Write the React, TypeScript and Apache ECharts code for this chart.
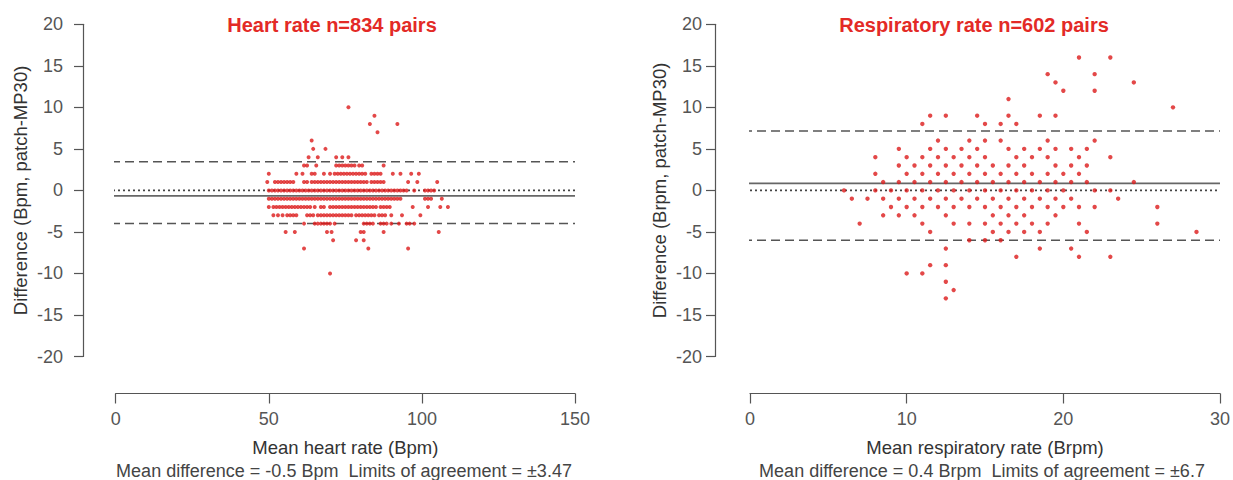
import React, { useEffect, useRef } from "react";
import * as echarts from "echarts";

// ---------- Heart rate panel data (difference row -> mean heart rate values) ----------
const HR_TITLE = "Heart rate n=834 pairs";
const HR_X_NAME = "Mean heart rate (Bpm)";
const HR_Y_NAME = "Difference (Bpm, patch-MP30)";
const HR_NOTE = "Mean difference = -0.5 Bpm  Limits of agreement = \u00b13.47";
const HR_X_RANGE = [0, 150];
const HR_X_STEP = 50;
const HR_LINES = { upper: 3.45, mean: -0.65, zero: 0, lower: -4.0 };
const HR_ROWS: { d: number; m: number[] }[] = [
  { d: 10, m: [76] },
  { d: 9, m: [84.5] },
  { d: 8, m: [83, 92] },
  { d: 7, m: [85.5] },
  { d: 6, m: [64] },
  { d: 5, m: [64.5, 68.5] },
  { d: 4, m: [63, 66, 72, 74, 76] },
  { d: 3, m: [61.5, 62.5, 65.5, 72, 73, 74, 75, 76, 77, 78, 79.5, 80.5, 87.5] },
  { d: 2, m: [50, 59, 61, 64, 65, 68, 70, 71.5, 72.5, 73.5, 74.5, 75.5, 76.5, 77.5, 78.5, 79.5, 80.5, 81.5, 83.5, 84.5, 85.5, 86.5, 90.5, 93, 96.5, 99] },
  { d: 1, m: [49.5, 52, 53, 54, 55, 56, 57, 58, 61.5, 62.5, 64, 65, 66, 67, 68, 69, 70, 71, 72, 73, 74, 75, 76, 77, 78, 79, 80, 81, 82, 83.5, 84.5, 85.5, 86.5, 87.5, 95.5, 98.5, 105] },
  { d: 0, m: [50, 51, 52, 53, 54, 55, 56, 57, 58, 59, 60, 61, 62, 63, 64, 65, 66, 67, 68, 69, 70, 71, 72, 73, 74, 75, 76, 77, 78, 79, 80, 81, 82, 83, 84, 85, 86, 87, 88, 89, 90, 91, 92, 93, 94, 95, 97.5, 101, 102, 103, 104] },
  { d: -1, m: [50, 51, 52, 53, 54, 55, 56, 57, 58, 59, 60, 61, 62, 63, 64, 65, 66, 67, 68, 69, 70, 71, 72, 73, 74, 75, 76, 77, 78, 79, 80, 81, 82, 83, 84, 85, 86, 87, 88, 89, 90, 91, 92, 93, 101, 102, 103, 106.5] },
  { d: -2, m: [50, 51.5, 52.5, 53.5, 54.5, 55.5, 56.5, 57.5, 58.5, 59.5, 60.5, 61.5, 62.5, 63.5, 65, 67, 68, 70, 71, 72, 73, 74, 75, 76, 77, 78, 79, 80, 81, 82, 83, 84, 85, 86.5, 87.5, 88.5, 89.5, 97, 102, 106, 108.5] },
  { d: -3, m: [51.5, 53, 54.5, 56, 57, 58, 59, 62.5, 63.5, 64.5, 66, 67, 68, 69, 70, 71, 72, 73, 74, 75, 76, 77, 78.5, 79.5, 80.5, 81.5, 82.5, 83.5, 84.5, 86, 87, 88, 90, 93.5, 99.5] },
  { d: -4, m: [61.5, 65, 66, 67, 68, 69, 70, 71.5, 81, 82, 83, 84, 86.5, 87.5, 88.5, 90, 92.5, 95, 96, 97.5] },
  { d: -5, m: [55.5, 58.5, 69, 70.5, 80, 81, 87.5, 105.5] },
  { d: -6, m: [71, 78.5, 81] },
  { d: -7, m: [61.5, 82.5, 95.5] },
  { d: -10, m: [70] },
];

// ---------- Respiratory rate panel data ----------
const RR_TITLE = "Respiratory rate n=602 pairs";
const RR_X_NAME = "Mean respiratory rate (Brpm)";
const RR_Y_NAME = "Difference (Brpm, patch-MP30)";
const RR_NOTE = "Mean difference = 0.4 Brpm  Limits of agreement = \u00b16.7";
const RR_X_RANGE = [0, 30];
const RR_X_STEP = 10;
const RR_LINES = { upper: 7.15, mean: 0.85, zero: 0, lower: -6.0 };
const RR_ROWS: { d: number; m: number[] }[] = [
  { d: 16, m: [21, 23] },
  { d: 14, m: [19, 22] },
  { d: 13, m: [19.5, 24.5] },
  { d: 12, m: [20, 22] },
  { d: 11, m: [16.5] },
  { d: 10, m: [27] },
  { d: 9, m: [11.5, 12.5, 14.5, 16.5, 18.5, 19.5] },
  { d: 8, m: [11, 15, 16, 17] },
  { d: 6, m: [12, 14, 15, 16, 19, 22] },
  { d: 5, m: [9.5, 11.5, 12.5, 13.5, 14.5, 16.5, 17.5, 18.5, 19.5, 20.5, 21.5] },
  { d: 4, m: [8, 10, 11, 12, 13, 14, 15, 17, 18, 19, 21, 23] },
  { d: 3, m: [9.5, 10.5, 11.5, 12.5, 13.5, 14.5, 15.5, 16.5, 17.5, 19.5, 20.5, 21.5] },
  { d: 2, m: [8, 10, 11, 12, 13, 14, 15, 16, 17, 18, 19, 20, 21] },
  { d: 1, m: [8.5, 9.5, 10.5, 11.5, 12.5, 13.5, 14.5, 15.5, 16.5, 17.5, 18.5, 19.5, 20.5, 21.5, 24.5] },
  { d: 0, m: [6, 8, 9, 10, 11, 12, 13, 14, 15, 16, 17, 18, 19, 20, 22, 23] },
  { d: -1, m: [6.5, 7.5, 8.5, 9.5, 10.5, 11.5, 12.5, 13.5, 14.5, 15.5, 16.5, 17.5, 18.5, 19.5, 20.5, 23.5] },
  { d: -2, m: [9, 10, 11, 12, 13, 14, 15, 16, 17, 18, 19, 20, 21, 22, 26] },
  { d: -3, m: [8.5, 9.5, 10.5, 12.5, 15.5, 16.5, 17.5, 19.5] },
  { d: -4, m: [7, 11, 13, 14, 15, 16, 17, 18, 19, 21, 26] },
  { d: -5, m: [11.5, 15.5, 16.5, 17.5, 18.5, 21.5, 28.5] },
  { d: -6, m: [14, 15, 16] },
  { d: -7, m: [12.5, 18.5, 20.5] },
  { d: -8, m: [17, 21, 23] },
  { d: -9, m: [11.5, 12.5] },
  { d: -10, m: [10, 11] },
  { d: -11, m: [12.5] },
  { d: -12, m: [13] },
  { d: -13, m: [12.5] },
];

const Y_RANGE = [-20, 20];
const Y_STEP = 5;

// ---------- styling / layout ----------
const FONT = "'Liberation Sans', Arial, Helvetica, sans-serif";
const RED = "#e32a26";
const DOT = "#dc1a1a";
const AXIS = "#555";
const GRID_TOP = 24.3;
const GRID_H = 332.2;
const X_OFFSET = 37;

const PANELS = [
  {
    title: HR_TITLE, xName: HR_X_NAME, yName: HR_Y_NAME, note: HR_NOTE,
    xRange: HR_X_RANGE, xStep: HR_X_STEP, lines: HR_LINES, rows: HR_ROWS,
    left: 115.7, width: 459.3, yOffset: 32.7, labelMargin: 20, yNameGap: 53,
    titleX: 332, noteX: 344, dot: 4,
  },
  {
    title: RR_TITLE, xName: RR_X_NAME, yName: RR_Y_NAME, note: RR_NOTE,
    xRange: RR_X_RANGE, xStep: RR_X_STEP, lines: RR_LINES, rows: RR_ROWS,
    left: 750, width: 470, yOffset: 35, labelMargin: 13, yNameGap: 46,
    titleX: 974, noteX: 982, dot: 4.4,
  },
];

export default function App() {
  const ref = useRef<HTMLDivElement>(null);
  useEffect(() => {
    if (!ref.current) return;
    const chart = echarts.init(ref.current, undefined, { renderer: "svg" });
    const grid: any[] = [];
    const xAxis: any[] = [];
    const yAxis: any[] = [];
    const series: any[] = [];
    const graphic: any[] = [];
    const labelStyle = { fontFamily: FONT, fontSize: 18, color: AXIS };
    const nameStyle = { fontFamily: FONT, fontSize: 18.5, color: "#333" };

    PANELS.forEach((p, i) => {
      grid.push({ left: p.left, width: p.width, top: GRID_TOP, height: GRID_H, containLabel: false });
      xAxis.push({
        gridIndex: i, type: "value", min: p.xRange[0], max: p.xRange[1], interval: p.xStep,
        offset: X_OFFSET,
        axisLine: { show: true, onZero: false, lineStyle: { color: AXIS, width: 1.2 } },
        axisTick: { show: true, length: 10, lineStyle: { color: AXIS, width: 1.2 } },
        axisLabel: { ...labelStyle, margin: 16 },
        splitLine: { show: false },
        name: p.xName, nameLocation: "middle", nameGap: 44, nameTextStyle: nameStyle,
      });
      yAxis.push({
        gridIndex: i, type: "value", min: Y_RANGE[0], max: Y_RANGE[1], interval: Y_STEP,
        offset: p.yOffset,
        axisLine: { show: true, onZero: false, lineStyle: { color: AXIS, width: 1.2 } },
        axisTick: { show: true, length: 9, lineStyle: { color: AXIS, width: 1.2 } },
        axisLabel: { ...labelStyle, margin: p.labelMargin },
        splitLine: { show: false },
        name: p.yName, nameLocation: "middle", nameGap: p.yNameGap, nameTextStyle: nameStyle,
      });

      const pts: number[][] = [];
      p.rows.forEach((r) => r.m.forEach((m) => pts.push([m, r.d])));
      series.push({
        type: "scatter", xAxisIndex: i, yAxisIndex: i, data: pts,
        symbol: "circle", symbolSize: p.dot,
        itemStyle: { color: DOT }, z: 3, silent: true,
      });

      // reference lines run from the (offset) y axis to the end of the x axis
      const pxPerUnit = p.width / (p.xRange[1] - p.xRange[0]);
      const xStart = p.xRange[0] - p.yOffset / pxPerUnit;
      const mk = (y: number, type: any, width: number, color: string) => ({
        type: "line", xAxisIndex: i, yAxisIndex: i, clip: false, symbol: "none", silent: true,
        data: [[xStart, y], [p.xRange[1], y]],
        lineStyle: { type, width, color }, z: 2,
      });
      series.push(mk(p.lines.upper, [9, 5], 1.5, "#555"));
      series.push(mk(p.lines.lower, [9, 5], 1.5, "#555"));
      series.push(mk(p.lines.mean, "solid", 1.8, "#666"));
      series.push(mk(p.lines.zero, [2, 3], 1.6, "#444"));

      graphic.push({
        type: "text", x: p.titleX, y: 24.5,
        style: { text: p.title, fill: RED, font: `bold 20px ${FONT}`, align: "center", verticalAlign: "middle" },
      });
      graphic.push({
        type: "text", x: p.noteX, y: 470.5,
        style: { text: p.note, fill: "#444", font: `18px ${FONT}`, align: "center", verticalAlign: "middle" },
      });
    });

    chart.setOption({
      animation: false,
      backgroundColor: "#fff",
      grid, xAxis, yAxis, series, graphic,
    });
    return () => chart.dispose();
  }, []);

  return (
    <div
      ref={ref}
      style={{ position: "fixed", left: 0, top: 0, width: 1233, height: 480 }}
    />
  );
}
